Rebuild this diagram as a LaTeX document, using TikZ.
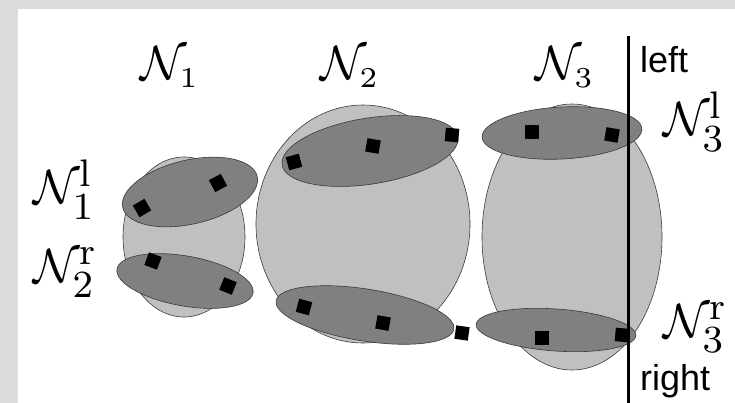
\documentclass[tikz,border=0pt]{standalone}
\usepackage{graphicx}
\usepackage{fontspec}
\newfontfamily\labsans{Liberation Sans}
\DeclareMathSizes{10}{10}{8}{6}
\usetikzlibrary{shapes.geometric}
\definecolor{bggray}{HTML}{DCDCDC}
\definecolor{lightfill}{HTML}{C0C0C0}
\definecolor{darkfill}{HTML}{808080}
\definecolor{edgecol}{HTML}{3A3A3A}
\newcommand{\biglab}[1]{\scalebox{4.8}{\fontsize{10}{12}\selectfont$#1$}}
\tikzset{
 bigell/.style={ellipse, draw=edgecol, line width=0.6pt, fill=lightfill, inner sep=0pt},
 smallell/.style={ellipse, draw=edgecol, line width=0.6pt, fill=darkfill, inner sep=0pt},
 sq/.style={fill=black, minimum size=13.5pt, inner sep=0pt},
 mlab/.style={anchor=base west, inner sep=0pt},
 slab/.style={anchor=base west, inner sep=0pt, font=\labsans\fontsize{36}{40}\selectfont},
}
\begin{document}
\begin{tikzpicture}[x=1pt,y=-1pt]
\fill[bggray] (0,0) rectangle (735,403);
\fill[white] (18,9) rectangle (735,403);
\useasboundingbox (0,0) rectangle (735,403);
% big clusters
\node[bigell, minimum width=122pt, minimum height=160pt] (B1) at (184,237) {};
\node[bigell, minimum width=214pt, minimum height=238pt] (B2) at (363,224) {};
\node[bigell, minimum width=180pt, minimum height=266pt] (B3) at (572,237) {};
% small sets
\node[smallell, minimum width=138pt, minimum height=64pt, rotate=13] (S1a) at (190,192) {};
\node[smallell, minimum width=138pt, minimum height=50pt, rotate=-10] (S1b) at (185,281) {};
\node[smallell, minimum width=178pt, minimum height=66pt, rotate=9] (S2a) at (370,151) {};
\node[smallell, minimum width=180pt, minimum height=52pt, rotate=-9] (S2b) at (365,315) {};
\node[smallell, minimum width=160pt, minimum height=52pt, rotate=3] (S3a) at (562,133) {};
\node[smallell, minimum width=160pt, minimum height=42pt, rotate=-4] (S3b) at (556,330) {};
% points
\node[sq, rotate=30] (q1) at (142,208) {};
\node[sq, rotate=28] (q2) at (218,183) {};
\node[sq, rotate=-20] (q3) at (153,261) {};
\node[sq, rotate=-22] (q4) at (228,286) {};
\node[sq, rotate=15] (q5) at (294,162) {};
\node[sq, rotate=-10] (q6) at (373,146) {};
\node[sq, rotate=-5] (q7) at (452,135) {};
\node[sq, rotate=-15] (q8) at (304,307) {};
\node[sq, rotate=-10] (q9) at (383,323) {};
\node[sq, rotate=-8] (q10) at (462,333) {};
\node[sq, rotate=0] (q11) at (532,132) {};
\node[sq, rotate=-10] (q12) at (612,135) {};
\node[sq, rotate=0] (q13) at (542,338) {};
\node[sq, rotate=-5] (q14) at (622,335) {};
% separator
\coordinate (ltop) at (628,36);
\coordinate (lbot) at (628,403);
\draw[line width=3pt] (ltop) -- (lbot);
% labels
\node[mlab] (N1) at (140,80) {\biglab{\mathcal{N}_{\scriptscriptstyle 1}}};
\node[mlab] (N2) at (320,80) {\biglab{\mathcal{N}_{\scriptscriptstyle 2}}};
\node[mlab] (N3) at (535,80) {\biglab{\mathcal{N}_{\scriptscriptstyle 3}}};
\node[mlab] (N1l) at (33,204) {\biglab{\mathcal{N}_1^{\mathrm{l}}}};
\node[mlab] (N2r) at (33,282) {\biglab{\mathcal{N}_2^{\mathrm{r}}}};
\node[mlab] (N3l) at (663,136) {\biglab{\mathcal{N}_3^{\mathrm{l}}}};
\node[mlab] (N3r) at (663,337) {\biglab{\mathcal{N}_3^{\mathrm{r}}}};
\node[slab] (lft) at (640,73) {left};
\node[slab] (rgt) at (640,390) {right};
\end{tikzpicture}
\end{document}
